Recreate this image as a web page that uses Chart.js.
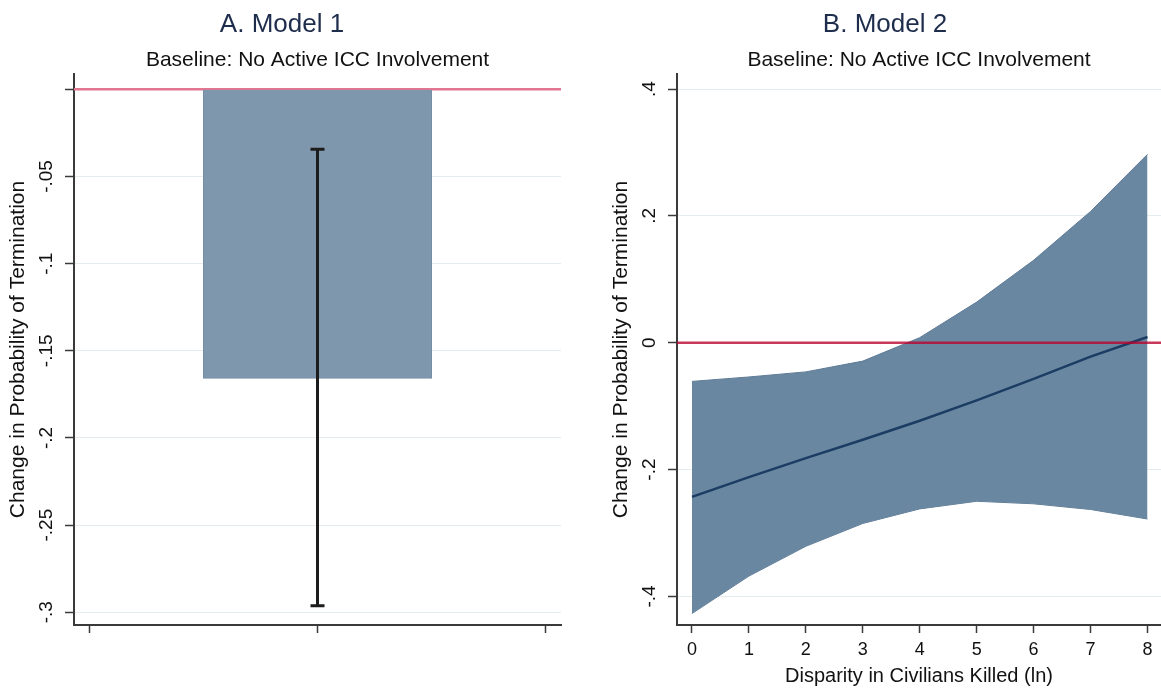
<!DOCTYPE html>
<html><head><meta charset="utf-8">
<script src="https://cdn.jsdelivr.net/npm/chart.js@4"></script>
<style>
html,body{margin:0;padding:0;background:#fff;overflow:hidden;width:1161px;height:692px}
canvas{position:absolute;top:0}
#c1{left:0}
#c2{left:603px}
</style></head><body>
<canvas id="c1" width="565" height="692"></canvas>
<canvas id="c2" width="558" height="692"></canvas>
<script>
const FONT = "'Liberation Sans', Arial, Helvetica, sans-serif";

// ---------- Panel A data ----------
const titleA = 'A. Model 1';
const subtitleText = 'Baseline: No Active ICC Involvement';
const yTitleText = 'Change in Probability of Termination';
const barX = [1];
const barValue = [-0.1658];
const ciLow = [-0.2962];
const ciHigh = [-0.0344];
const aXTicks = [0, 1, 2];
const aYTicks = [0, -0.05, -0.1, -0.15, -0.2, -0.25, -0.3];
const aYLabels = ['', '-.05', '-.1', '-.15', '-.2', '-.25', '-.3'];
const aYRange = [-0.3073, 0.0088];
const aXRange = [-0.066, 2.066];

// ---------- Panel B data ----------
const titleB = 'B. Model 2';
const xTitleB = 'Disparity in Civilians Killed (ln)';
const disparity = [0, 1, 2, 3, 4, 5, 6, 7, 8];
const estimate = [-0.243, -0.212, -0.182, -0.153, -0.123, -0.091, -0.057, -0.022, 0.009];
const upperCI = [-0.061, -0.054, -0.046, -0.029, 0.008, 0.064, 0.130, 0.207, 0.297];
const lowerCI = [-0.427, -0.368, -0.321, -0.285, -0.262, -0.250, -0.254, -0.263, -0.278];
const bXTicks = [0, 1, 2, 3, 4, 5, 6, 7, 8];
const bYTicks = [0.4, 0.2, 0, -0.2, -0.4];
const bYLabels = ['.4', '.2', '0', '-.2', '-.4'];
const bYRange = [-0.4451, 0.4237];
const bXRange = [-0.263, 8.237];

const refValue = 0;

// ---------- shared styling ----------
const AXIS = '#3a3a3a';
const GRID = '#e4ecef';

function yScale(range, ticks) {
  return {
    type: 'linear', min: range[0], max: range[1],
    afterBuildTicks: s => { s.ticks = ticks.map(v => ({ value: v })); },
    afterFit: s => { s.width = 74; },
    ticks: { display: false },
    grid: {
      color: c => (c.tick && Math.abs(c.tick.value) < 1e-9) ? 'rgba(0,0,0,0)' : GRID,
      lineWidth: 1, drawTicks: true, tickLength: 9, tickColor: AXIS, tickWidth: 1.5
    },
    border: { display: true, color: AXIS, width: 2 },
    title: { display: true, text: yTitleText, color: '#111',
      font: { family: FONT, size: 21 }, padding: { top: 6, bottom: 0 } }
  };
}

function decorPlugin(cfg) {
  return {
    id: 'decor',
    beforeDatasetsDraw(chart) {
      if (cfg.refLayer === 'before') drawRef(chart);
    },
    afterDatasetsDraw(chart) {
      if (cfg.refLayer === 'after') drawRef(chart);
      if (cfg.errorBar) {
        const { ctx } = chart;
        const xs = chart.scales.x, ys = chart.scales.y;
        ctx.save();
        ctx.strokeStyle = '#1c1c1c';
        ctx.lineWidth = 3;
        cfg.errorBar.x.forEach((xv, i) => {
          const px = xs.getPixelForValue(xv);
          const y1 = ys.getPixelForValue(cfg.errorBar.lo[i]);
          const y2 = ys.getPixelForValue(cfg.errorBar.hi[i]);
          ctx.beginPath();
          ctx.moveTo(px, y1); ctx.lineTo(px, y2);
          ctx.moveTo(px - 7, y1); ctx.lineTo(px + 7, y1);
          ctx.moveTo(px - 7, y2); ctx.lineTo(px + 7, y2);
          ctx.stroke();
        });
        ctx.restore();
      }
    },
    afterDraw(chart) {
      const { ctx, chartArea } = chart;
      const ys = chart.scales.y;
      ctx.save();
      // titles
      ctx.textAlign = 'center';
      ctx.textBaseline = 'alphabetic';
      ctx.fillStyle = '#1f2d4d';
      ctx.font = `26px ${FONT}`;
      ctx.fillText(cfg.title, 282, 32);
      ctx.fillStyle = '#111';
      ctx.font = `21px ${FONT}`;
      ctx.fillText(subtitleText, (chartArea.left + chartArea.right) / 2, 66);
      // rotated y tick labels
      ctx.font = `19px ${FONT}`;
      ctx.fillStyle = '#111';
      cfg.yTicks.forEach((v, i) => {
        const label = cfg.yLabels[i];
        if (!label) return;
        const py = ys.getPixelForValue(v);
        ctx.save();
        ctx.translate(chartArea.left - 22, py);
        ctx.rotate(-Math.PI / 2);
        ctx.textAlign = 'center';
        ctx.textBaseline = 'alphabetic';
        ctx.fillText(label, 0, 0);
        ctx.restore();
      });
      ctx.restore();
    }
  };
  function drawRef(chart) {
    const { ctx, chartArea } = chart;
    const py = chart.scales.y.getPixelForValue(refValue);
    ctx.save();
    ctx.strokeStyle = cfg.refColor;
    ctx.lineWidth = 2.5;
    ctx.beginPath();
    ctx.moveTo(chartArea.left, py);
    ctx.lineTo(chartArea.right, py);
    ctx.stroke();
    ctx.restore();
  }
}

// ---------- Panel A ----------
new Chart(document.getElementById('c1'), {
  type: 'bar',
  data: {
    datasets: [{
      data: barX.map((x, i) => ({ x, y: barValue[i] })),
      backgroundColor: '#7f97ad',
      borderColor: '#768ea5',
      borderWidth: 1,
      barPercentage: 1,
      categoryPercentage: 1
    }]
  },
  options: {
    responsive: false, animation: false, devicePixelRatio: 1,
    layout: { padding: { left: 0, top: 74, right: 4, bottom: 0 } },
    plugins: { legend: { display: false }, tooltip: { enabled: false } },
    scales: {
      x: {
        type: 'linear', min: aXRange[0], max: aXRange[1], offset: false,
        afterBuildTicks: s => { s.ticks = aXTicks.map(v => ({ value: v })); },
        afterFit: s => { s.height = 67; },
        ticks: { display: false },
        grid: { drawOnChartArea: false, offset: false, drawTicks: true, tickLength: 8, tickColor: AXIS, tickWidth: 1.5 },
        border: { display: true, color: AXIS, width: 2 }
      },
      y: yScale(aYRange, aYTicks)
    }
  },
  plugins: [decorPlugin({
    title: titleA, yTicks: aYTicks, yLabels: aYLabels,
    refColor: '#e2758f', refLayer: 'before',
    errorBar: { x: barX, lo: ciLow, hi: ciHigh }
  })]
});

// ---------- Panel B ----------
new Chart(document.getElementById('c2'), {
  type: 'line',
  data: {
    datasets: [
      {
        data: disparity.map((x, i) => ({ x, y: upperCI[i] })),
        borderColor: '#5d7a95', borderWidth: 1, backgroundColor: '#6a87a1',
        fill: '+1', pointRadius: 0, tension: 0, order: 1
      },
      {
        data: disparity.map((x, i) => ({ x, y: lowerCI[i] })),
        borderColor: '#5d7a95', borderWidth: 1, fill: false,
        pointRadius: 0, tension: 0, order: 2
      },
      {
        data: disparity.map((x, i) => ({ x, y: estimate[i] })),
        borderColor: '#1b3d63', borderWidth: 2.5, fill: false,
        pointRadius: 0, tension: 0, order: 0
      }
    ]
  },
  options: {
    responsive: false, animation: false, devicePixelRatio: 1,
    layout: { padding: { left: 0, top: 74, right: 0, bottom: 0 } },
    plugins: { legend: { display: false }, tooltip: { enabled: false } },
    scales: {
      x: {
        type: 'linear', min: bXRange[0], max: bXRange[1],
        afterBuildTicks: s => { s.ticks = bXTicks.map(v => ({ value: v })); },
        afterFit: s => { s.height = 67; },
        ticks: { display: true, color: '#111', font: { family: FONT, size: 18 }, padding: 6, maxRotation: 0,
          callback: v => String(v) },
        grid: { drawOnChartArea: false, drawTicks: true, tickLength: 8, tickColor: AXIS, tickWidth: 1.5 },
        border: { display: true, color: AXIS, width: 2 },
        title: { display: true, text: xTitleB, color: '#111',
          font: { family: FONT, size: 20 }, padding: { top: 0, bottom: 4 } }
      },
      y: yScale(bYRange, bYTicks)
    }
  },
  plugins: [decorPlugin({
    title: titleB, yTicks: bYTicks, yLabels: bYLabels,
    refColor: 'rgba(186,0,44,0.78)', refLayer: 'after'
  })]
});
</script>
</body></html>
